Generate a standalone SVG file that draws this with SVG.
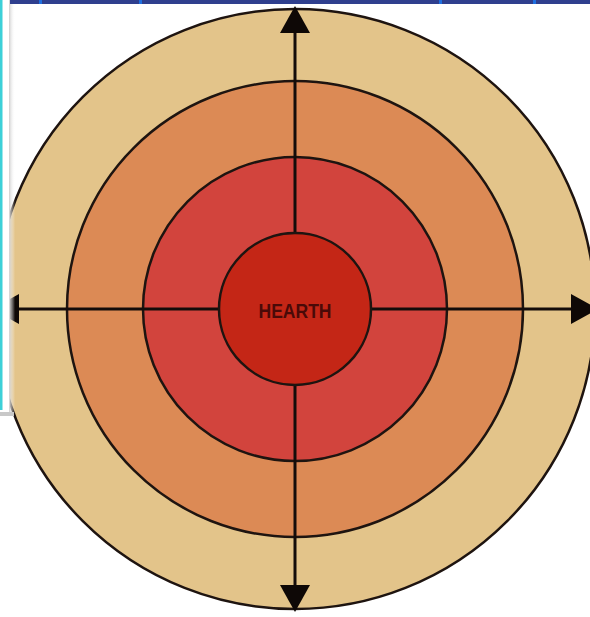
<svg xmlns="http://www.w3.org/2000/svg" width="590" height="617" viewBox="0 0 590 617">
<defs>
<style>
.ring{stroke:#1e1410;stroke-width:2.5}
.axis{stroke:#140c0a;stroke-width:3;fill:none}
.head{fill:#0e0806}
.lbl{font-family:"Liberation Sans",Arial,sans-serif;font-weight:bold;font-size:21px;fill:#4a0a08}
</style>
<linearGradient id="shadow" x1="0" x2="1" y1="0" y2="0">
<stop offset="0" stop-color="#cfcfcf"/>
<stop offset="1" stop-color="#ffffff" stop-opacity="0"/>
</linearGradient>
</defs>
<rect width="590" height="617" fill="#ffffff"/>
<g id="ring-outer"><circle class="ring" cx="295" cy="309" r="300" fill="#E3C48A"/></g>
<g id="ring-second"><circle class="ring" cx="295" cy="309" r="228" fill="#DC8A55"/></g>
<g id="ring-third"><circle class="ring" cx="295" cy="309" r="152" fill="#D2443D"/></g>
<g id="connectors">
<line class="axis" x1="295" y1="20" x2="295" y2="233"/>
<line class="axis" x1="295" y1="385" x2="295" y2="598"/>
<line class="axis" x1="0" y1="309" x2="219" y2="309"/>
<line class="axis" x1="371" y1="309" x2="590" y2="309"/>
<polygon class="head" points="295,6 280,33 310,33"/>
<polygon class="head" points="295,612 280,585 310,585"/>
<polygon class="head" points="-8,309 19,294 19,324"/>
<polygon class="head" points="598,309 571,294 571,324"/>
</g>
<g id="hearth"><circle class="ring" cx="295" cy="309" r="76" fill="#C42616"/>
<text class="lbl" x="295" y="318" text-anchor="middle" textLength="73" lengthAdjust="spacingAndGlyphs">HEARTH</text></g>
<g id="frame">
<rect x="0" y="0" width="10" height="413" fill="#ffffff"/>
<rect x="0" y="0" width="2.5" height="410" fill="#3CD0D8"/>
<rect x="9" y="0" width="6" height="413" fill="url(#shadow)"/>
<rect x="0" y="412" width="14" height="4" fill="#c8c8c8"/>
<rect x="10" y="0" width="580" height="4" fill="#2F3F8E"/>
<rect x="39" y="0" width="3" height="4" fill="#1E6FE0"/>
<rect x="139" y="0" width="3" height="4" fill="#1E6FE0"/>
<rect x="439" y="0" width="3" height="4" fill="#1E6FE0"/>
<rect x="533" y="0" width="3" height="4" fill="#1E6FE0"/>
</g>
</svg>
